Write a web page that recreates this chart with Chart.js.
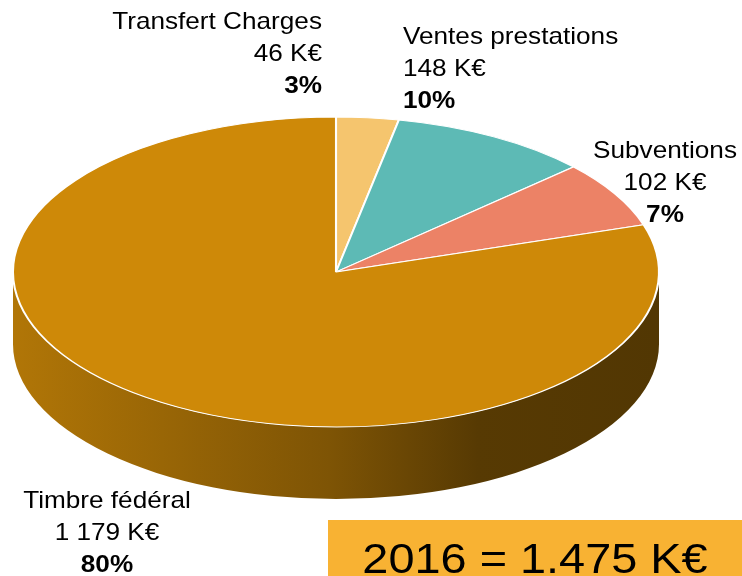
<!DOCTYPE html>
<html>
<head>
<meta charset="utf-8">
<script src="https://cdn.jsdelivr.net/npm/chart.js@4.4.1/dist/chart.umd.min.js"></script>
<style>
  html, body { margin: 0; padding: 0; background: #fff; }
  #wrap { width: 742px; height: 576px; position: relative; }
</style>
</head>
<body>
<div id="wrap"><canvas id="pie"></canvas></div>
<script>
// Produits 2016 (K€)
const categories  = ['Transfert Charges', 'Ventes prestations', 'Subventions', 'Timbre fédéral'];
const valuesKE    = [46, 148, 102, 1179];
const sliceColors = ['#F5C56E', '#5DBAB5', '#EC8266', '#CE8908'];
const totalLabel  = '2016 = 1.475 K€';

const total         = valuesKE.reduce((a, b) => a + b, 0);
const percentLabels = valuesKE.map(v => Math.round(v / total * 100) + '%');
const valueLabels   = valuesKE.map(v => String(v).replace(/\B(?=(\d{3})+(?!\d))/g, ' ') + ' K€');

// label anchors (first baseline) and alignment
const labelPos = [
  { x: 322, y: 29,  align: 'right'  },
  { x: 403, y: 44,  align: 'left'   },
  { x: 665, y: 158, align: 'center' },
  { x: 107, y: 508, align: 'center' },
];

const DEPTH    = 72;     // height of the pie wall
const STRETCH  = 1.09;   // text in the source is slightly wide
const FONT     = '"Liberation Sans", Arial, sans-serif';

function shade(hex, f) {
  const n = parseInt(hex.slice(1), 16);
  const r = Math.round(((n >> 16) & 255) * f);
  const g = Math.round(((n >> 8) & 255) * f);
  const b = Math.round((n & 255) * f);
  return `rgb(${r},${g},${b})`;
}

function wideText(ctx, text, x, y, align, font) {
  ctx.save();
  ctx.translate(x, y);
  ctx.scale(STRETCH, 1);
  ctx.font = font;
  ctx.textAlign = align;
  ctx.textBaseline = 'alphabetic';
  ctx.fillStyle = '#000';
  ctx.fillText(text, 0, 0);
  ctx.restore();
}

// front-facing part of [s, e] (canvas angles, 0 = 3 o'clock, clockwise)
function frontRange(s, e) {
  for (const k of [-2, 0, 2]) {
    const a0 = Math.max(s, k * Math.PI), a1 = Math.min(e, (k + 1) * Math.PI);
    if (a1 > a0) return [a0 - k * Math.PI, a1 - k * Math.PI];
  }
  return null;
}

const pie3d = {
  id: 'pie3d',
  beforeDatasetsDraw(chart) {
    const ctx  = chart.ctx;
    const area = chart.chartArea;
    const arcs = chart.getDatasetMeta(0).data;
    const { x, y, outerRadius: r } = arcs[0];
    const rx = area.width / 2, ry = area.height / 2;

    // walls
    arcs.forEach((arc, i) => {
      const rng = frontRange(arc.startAngle, arc.endAngle);
      if (!rng) return;
      const c = sliceColors[i];
      const grad = ctx.createLinearGradient(area.left, 0, area.right, 0);
      grad.addColorStop(0,    shade(c, 0.86));
      grad.addColorStop(0.49, shade(c, 0.61));
      grad.addColorStop(0.72, shade(c, 0.42));
      grad.addColorStop(1,    shade(c, 0.40));
      ctx.beginPath();
      ctx.ellipse(x, y, rx, ry, 0, rng[0], rng[1]);
      ctx.ellipse(x, y + DEPTH, rx, ry, 0, rng[1], rng[0], true);
      ctx.closePath();
      ctx.fillStyle = grad;
      ctx.fill();
    });

    // squash the top face into the chart area
    ctx.save();
    ctx.translate(x, y);
    ctx.scale(rx / r, ry / r);
    ctx.translate(-x, -y);
  },
  afterDatasetsDraw(chart) {
    chart.ctx.restore();
  },
  afterDraw(chart) {
    const ctx = chart.ctx;
    categories.forEach((name, i) => {
      const p = labelPos[i];
      wideText(ctx, name,             p.x, p.y,      p.align, `24px ${FONT}`);
      wideText(ctx, valueLabels[i],   p.x, p.y + 32, p.align, `24px ${FONT}`);
      wideText(ctx, percentLabels[i], p.x, p.y + 64, p.align, `bold 24px ${FONT}`);
    });

    // total box
    ctx.fillStyle = '#F8B233';
    ctx.fillRect(328, 520, 414, 56);
    wideText(ctx, totalLabel, 535, 573, 'center', `43px ${FONT}`);
  }
};

new Chart(document.getElementById('pie'), {
  type: 'pie',
  data: {
    labels: categories,
    datasets: [{
      data:            valuesKE,
      backgroundColor: sliceColors,
      borderColor:     '#FFFFFF',
      borderWidth:     1,
    }],
  },
  options: {
    responsive:          true,
    maintainAspectRatio: false,
    animation:           false,
    events:              [],
    layout: { padding: { left: 13, right: 83, top: 117, bottom: 149 } },
    plugins: {
      legend:  { display: false },
      tooltip: { enabled: false },
    },
  },
  plugins: [pie3d],
});
</script>
</body>
</html>
